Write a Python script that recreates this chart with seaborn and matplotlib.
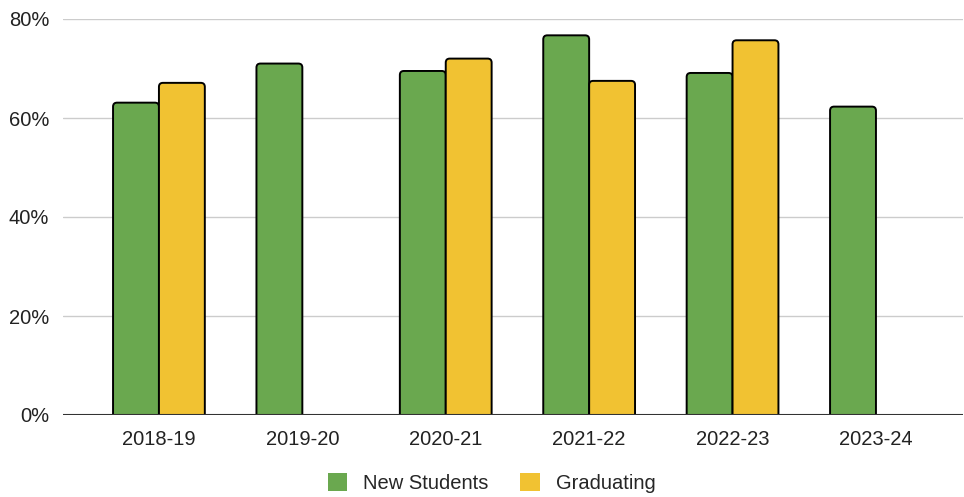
import pandas as pd
import numpy as np
import matplotlib.pyplot as plt
import seaborn as sns
from matplotlib.patches import FancyBboxPatch
from matplotlib.ticker import PercentFormatter

years = ['2018-19', '2019-20', '2020-21', '2021-22', '2022-23', '2023-24']
new_students = [63.1, 71.0, 69.5, 76.7, 69.1, 62.3]
graduating = [67.1, np.nan, 72.0, 67.5, 75.7, np.nan]

df = pd.DataFrame({
    'year': years * 2,
    'value': new_students + graduating,
    'group': ['New Students'] * len(years) + ['Graduating'] * len(years),
})

sns.set_style('white')
plt.rcParams['font.family'] = ['Liberation Sans', 'DejaVu Sans']

fig = plt.figure(figsize=(9.64, 4.97), dpi=100)
ax = fig.add_axes([63 / 964, 82 / 497, 900 / 964, 396 / 497])

sns.barplot(data=df, x='year', y='value', hue='group',
            palette={'New Students': '#6aa84f', 'Graduating': '#f1c232'},
            saturation=1, width=0.64, edgecolor='black', linewidth=1.4,
            ax=ax, zorder=3)

ax.set_ylim(0, 80)
ax.set_xlim(-0.669, 5.607)

# swap the plain rectangles for ones with rounded corners (bottom hidden below 0)
px_x = 900 / (5.607 + 0.669)
px_y = 396 / 80
for bar in list(ax.patches):
    h = bar.get_height()
    if np.isnan(h) or h == 0:
        continue
    x0, w = bar.get_x(), bar.get_width()
    r = 4 / px_x
    box = FancyBboxPatch((x0, -3), w, h + 3,
                         boxstyle=f'round,pad=0,rounding_size={r}',
                         mutation_aspect=px_x / px_y,
                         facecolor=bar.get_facecolor(), edgecolor='black',
                         linewidth=1.4, zorder=3)
    ax.add_patch(box)
    bar.set_visible(False)

ax.yaxis.set_major_formatter(PercentFormatter(decimals=0))
ax.set_yticks([0, 20, 40, 60, 80])
ax.grid(axis='y', color='#cccccc', linewidth=1, zorder=0)
ax.axhline(0, color='#333333', linewidth=1.5, zorder=4)
for s in ax.spines.values():
    s.set_visible(False)
ax.tick_params(axis='both', length=0, labelsize=14.5, colors='#222222')
ax.tick_params(axis='x', pad=11)
ax.tick_params(axis='y', pad=10)
ax.set_xlabel('')
ax.set_ylabel('')

handles, labels = ax.get_legend_handles_labels()
ax.legend(handles, labels, loc='center', bbox_to_anchor=(491.5 / 964, 14 / 497),
          bbox_transform=fig.transFigure,
          ncol=2, frameon=False, fontsize=14.5, handlelength=0.95, handleheight=0.95,
          columnspacing=1.6, handletextpad=0.8)
for h in ax.get_legend().legend_handles:
    h.set_edgecolor('none')

fig.savefig('out.png', dpi=100)
